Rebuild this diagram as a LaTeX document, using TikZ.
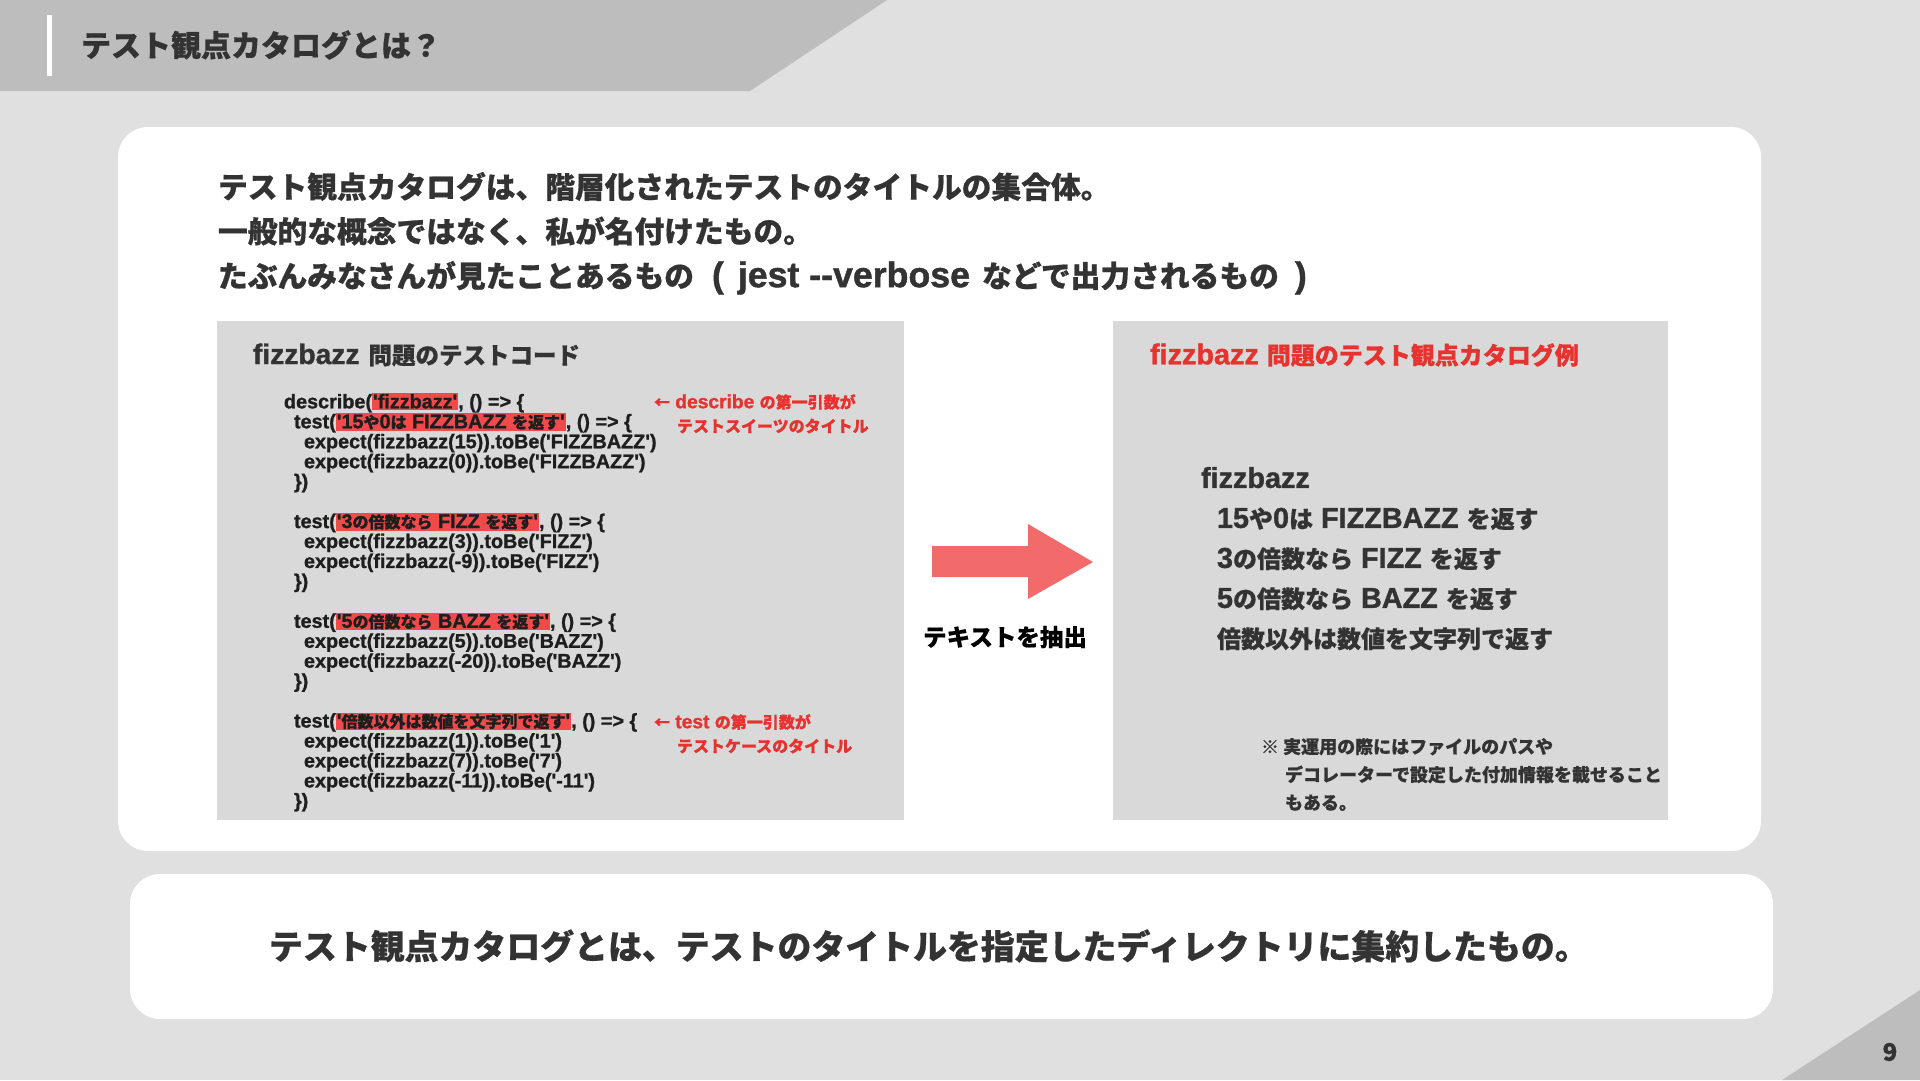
\documentclass[tikz,border=0pt]{standalone}
\usepackage{fontspec}
\setmainfont{Noto Sans CJK JP}[BoldFeatures={FakeBold=0.6}]
\newfontfamily\enfont{Liberation Sans}[Scale=1.2, UprightFont={* Bold}, BoldFont={* Bold}, FakeBold=1.2, BoldFeatures={FakeBold=1.2}]
\newfontfamily\jpfont{Noto Sans CJK JP}[BoldFeatures={FakeBold=0.6}]
\usepackage{tikz}
\usetikzlibrary{positioning}

\newcommand{\sq}{\textquotesingle}
\newcommand{\en}[1]{{\enfont #1}}
\newcommand{\cj}[1]{{\jpfont\fontsize{16}{19.95}\selectfont #1}}
\newcommand{\hl}[1]{{\setlength{\fboxsep}{1pt}\colorbox{hlred}{#1}}}

\begin{document}
\begin{tikzpicture}[x=1pt, y=-1pt,
  every node/.style={inner sep=0pt, outer sep=0pt, text=inkcolor},
  card/.style={fill=white, rounded corners=30pt},
  panel/.style={fill=panelcolor},
  headtext/.style={anchor=west, font=\fontsize{30}{34}\selectfont\bfseries},
  introtext/.style={anchor=north west, align=left, font=\fontsize{29.75}{44.5}\selectfont\bfseries},
  codetext/.style={anchor=north west, align=left, text=codeink, font=\enfont\fontsize{16.5}{19.95}\selectfont\bfseries},
  notetext/.style={anchor=west, text=notered, font=\fontsize{16}{20}\selectfont\bfseries},
  listtext/.style={anchor=north west, align=left, font=\fontsize{24}{40}\selectfont\bfseries}]

  % Colors
  \definecolor{bgcolor}{HTML}{E0E0E0}
  \definecolor{bandcolor}{HTML}{BDBDBD}
  \definecolor{panelcolor}{HTML}{D9D9D9}
  \definecolor{inkcolor}{HTML}{333333}
  \definecolor{codeink}{HTML}{1E1E1E}
  \definecolor{notered}{HTML}{E6332F}
  \definecolor{hlred}{HTML}{F04A4A}
  \definecolor{arrowred}{HTML}{F26A6A}

  \fill[bgcolor] (0,0) rectangle (1920,1080);
  \useasboundingbox (0,0) rectangle (1920,1080);

  % Header band
  \fill[bandcolor] (0,0) -- (887,0) -- (750,91) -- (0,91) -- cycle;
  \fill[white] (47,15) rectangle (52,76);
  \node[headtext] (title) at (81,45) {テスト観点カタログとは？};

  % Page corner
  \fill[bandcolor] (1782,1080) -- (1920,990) -- (1920,1080) -- cycle;
  \node[font=\fontsize{24}{28}\selectfont\bfseries] (pagenum) at (1890,1052) {9};

  % Main card
  \fill[card] (118,127) rectangle (1761,851);
  \node[introtext] (intro) at (218,172) {テスト観点カタログは、階層化されたテストのタイトルの集合体。\\
    一般的な概念ではなく、私が名付けたもの。\\
    たぶんみなさんが見たことあるもの\hspace{18pt}\en{(}\hspace{14pt}\en{jest \mbox{-}\mbox{-}verbose}\hspace{12pt}などで出力されるもの\hspace{16pt}\en{)}};

  % PART 1: test code
  \fill[panel] (217,321) rectangle (904,820);
  \node[anchor=west, font=\fontsize{23.5}{30}\selectfont\bfseries] (codetitle) at (253,355) {\en{fizzbazz\hspace{9pt}}問題のテストコード};
  \node[codetext] (code) at (284,393) {describe(\hl{\sq fizzbazz\sq}, () => \{\\
    \hspace*{10pt}test(\hl{\sq 15\cj{や}0\cj{は} FIZZBAZZ \cj{を返す}\sq}, () => \{\\
    \hspace*{20pt}expect(fizzbazz(15)).toBe(\sq FIZZBAZZ\sq)\\
    \hspace*{20pt}expect(fizzbazz(0)).toBe(\sq FIZZBAZZ\sq)\\
    \hspace*{10pt}\})\\
    \mbox{}\\
    \hspace*{10pt}test(\hl{\sq 3\cj{の倍数なら} FIZZ \cj{を返す}\sq}, () => \{\\
    \hspace*{20pt}expect(fizzbazz(3)).toBe(\sq FIZZ\sq)\\
    \hspace*{20pt}expect(fizzbazz(-9)).toBe(\sq FIZZ\sq)\\
    \hspace*{10pt}\})\\
    \mbox{}\\
    \hspace*{10pt}test(\hl{\sq 5\cj{の倍数なら} BAZZ \cj{を返す}\sq}, () => \{\\
    \hspace*{20pt}expect(fizzbazz(5)).toBe(\sq BAZZ\sq)\\
    \hspace*{20pt}expect(fizzbazz(-20)).toBe(\sq BAZZ\sq)\\
    \hspace*{10pt}\})\\
    \mbox{}\\
    \hspace*{10pt}test(\hl{\sq\cj{倍数以外は数値を文字列で返す}\sq}, () => \{\\
    \hspace*{20pt}expect(fizzbazz(1)).toBe(\sq 1\sq)\\
    \hspace*{20pt}expect(fizzbazz(7)).toBe(\sq 7\sq)\\
    \hspace*{20pt}expect(fizzbazz(-11)).toBe(\sq -11\sq)\\
    \hspace*{10pt}\})};
  \node[notetext] (suitenote) at (654,402) {←\en{ describe }の第一引数が};
  \node[notetext] (suitenote2) at (677,426) {テストスイーツのタイトル};
  \node[notetext] (casenote) at (654,722) {←\en{ test }の第一引数が};
  \node[notetext] (casenote2) at (677,746) {テストケースのタイトル};

  % Arrow
  \coordinate (tail) at (932,562);
  \fill[arrowred] (tail) ++(0,-16) -- ++(96,0) -- ++(0,-22) -- (1093,562)
    -- (1028,599) -- ++(0,-22) -- ++(-96,0) -- cycle;
  \node[font=\fontsize{23.5}{28}\selectfont\bfseries, text=black] (extract) at (1005,637) {テキストを抽出};

  % PART 2: catalog
  \fill[panel] (1113,321) rectangle (1668,820);
  \node[anchor=west, text=notered, font=\fontsize{24}{28}\selectfont\bfseries] (catalogtitle) at (1150,355) {\en{fizzbazz }問題のテスト観点カタログ例};
  \node[listtext] (catalog) at (1201,467) {\en{fizzbazz}\\
    \hspace*{16pt}\en{15}や\en{0}は\en{ FIZZBAZZ }を返す\\
    \hspace*{16pt}\en{3}の倍数なら\en{ FIZZ }を返す\\
    \hspace*{16pt}\en{5}の倍数なら\en{ BAZZ }を返す\\
    \hspace*{16pt}倍数以外は数値を文字列で返す};
  \node[anchor=north west, align=left, font=\fontsize{18}{28}\selectfont\bfseries] (remark) at (1261,738) {※ 実運用の際にはファイルのパスや\\
    \hspace*{24pt}デコレーターで設定した付加情報を載せること\\
    \hspace*{24pt}もある。};

  % Summary card
  \fill[card] (130,874) rectangle (1773,1019);
  \node[anchor=west, font=\fontsize{33.9}{40}\selectfont\bfseries] (summary) at (269,946) {テスト観点カタログとは、テストのタイトルを指定したディレクトリに集約したもの。};

\end{tikzpicture}
\end{document}
